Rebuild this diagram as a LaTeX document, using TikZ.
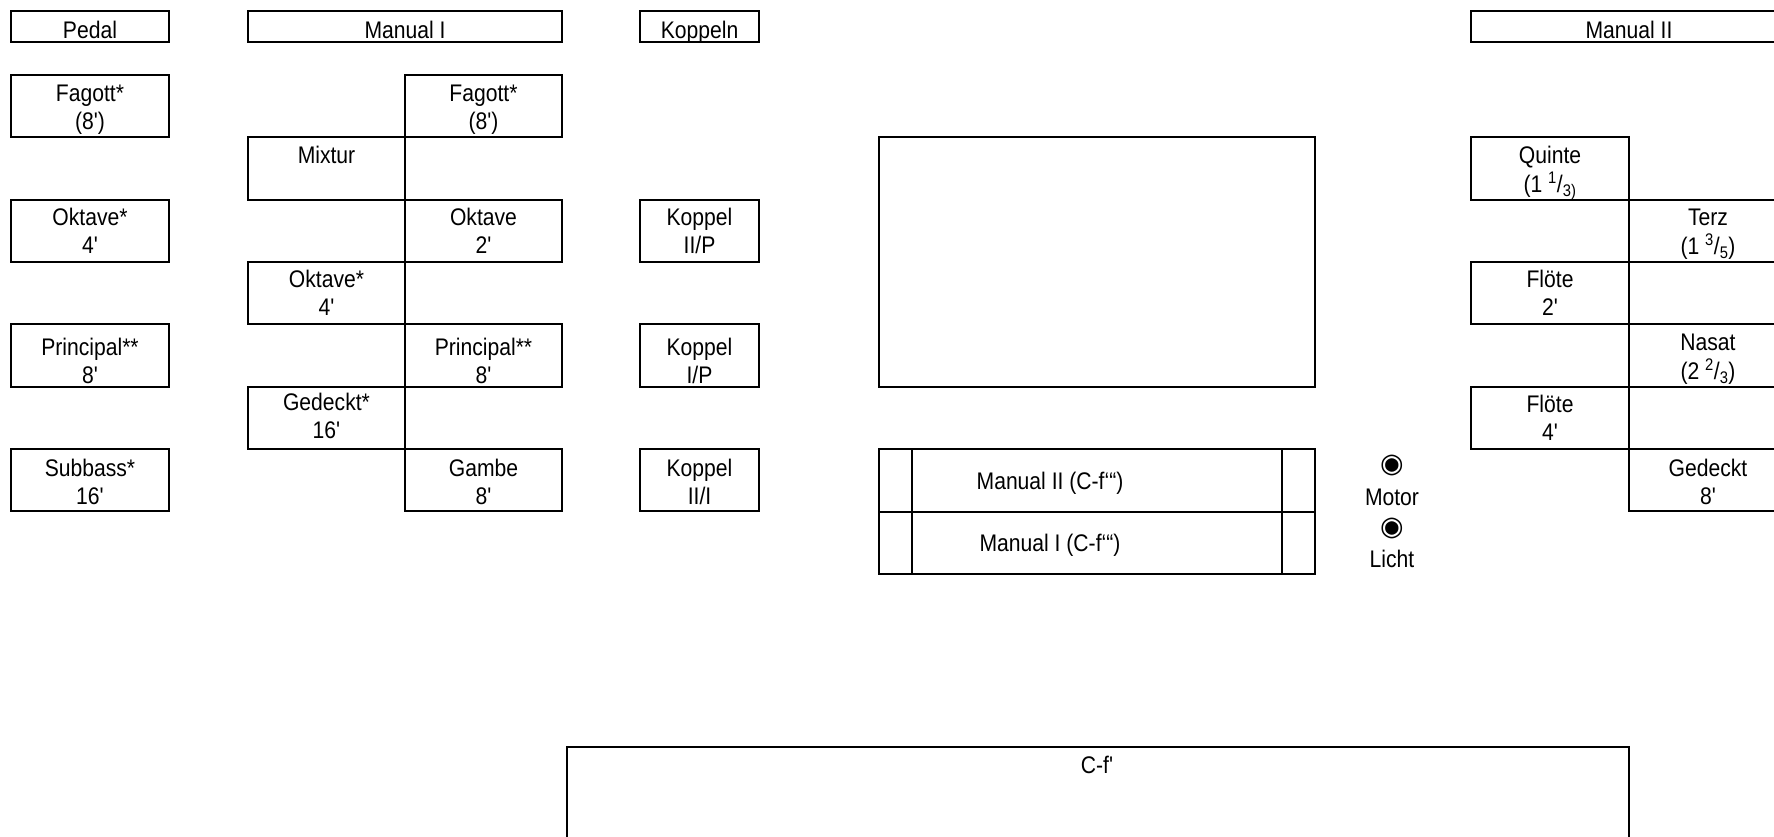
\documentclass[tikz,border=0pt]{standalone}
\usepackage{fontspec}
\setmainfont{Liberation Sans}[FakeStretch=0.88, Ligatures=TeXOff]
\newfontfamily\symfont{DejaVu Sans}
\newcommand\regbox[6]{\node[stopbox, minimum width=#4, anchor=north west, #6] (#1) at (#2,#3) {\begin{tabular}[t]{@{}c@{}}#5\end{tabular}};}
\begin{document}
\begin{tikzpicture}[x=1pt,y=-1pt,
  every node/.style={inner sep=0pt, outer sep=0pt, font=\fontsize{24}{28}\selectfont},
  lw/.style={line width=2pt},
  stopbox/.style={draw, lw, text height=26pt, text depth=36.3pt},
  lowtext/.style={text height=31pt, text depth=31.3pt},
  hightext/.style={text height=24pt, text depth=38.3pt},
  midtext/.style={text height=28pt, text depth=34.3pt},
  hdr/.style={draw, lw, text height=27pt, text depth=4pt, anchor=north west},
  plain/.style={draw, lw, anchor=north west},
  switchmark/.style={font=\symfont\fontsize{27}{27}\selectfont}
]
\useasboundingbox (0,0) rectangle (1774,836);
\clip (0,0) rectangle (1774,836);

% headers
\node[hdr, minimum width=158pt] (hpedal) at (11,11) {Pedal};
\node[hdr, minimum width=314pt] (hman1) at (248,11) {Manual I};
\node[hdr, minimum width=119pt] (hkop) at (640,11) {Koppeln};
\node[hdr, minimum width=316pt] (hman2) at (1471,11) {Manual II};

% Pedal
\regbox{pfag}{11}{75}{158pt}{Fagott*\\(8')}{}
\regbox{pokt}{11}{199.6}{158pt}{Oktave*\\4'}{}
\regbox{pprin}{11}{324.2}{158pt}{Principal**\\8'}{lowtext}
\regbox{psub}{11}{448.8}{158pt}{Subbass*\\16'}{midtext}

% Manual I
\regbox{mfag}{405}{75}{157pt}{Fagott*\\(8')}{}
\regbox{mmix}{248}{137.3}{157pt}{Mixtur\\\mbox{}}{}
\regbox{mokt}{405}{199.6}{157pt}{Oktave\\2'}{}
\regbox{mokts}{248}{261.9}{157pt}{Oktave*\\4'}{}
\regbox{mprin}{405}{324.2}{157pt}{Principal**\\8'}{lowtext}
\regbox{mged}{248}{386.5}{157pt}{Gedeckt*\\16'}{hightext}
\regbox{mgam}{405}{448.8}{157pt}{Gambe\\8'}{midtext}

% Koppeln
\regbox{k2p}{640}{199.6}{119pt}{Koppel\\II/P}{}
\regbox{k1p}{640}{324.2}{119pt}{Koppel\\I/P}{lowtext}
\regbox{k21}{640}{448.8}{119pt}{Koppel\\II/I}{midtext}

% Manual II
\regbox{nquin}{1471}{137.3}{158pt}{Quinte\\(1 \textsuperscript{1}/\textsubscript{3)}}{}
\regbox{nterz}{1629}{199.6}{158pt}{Terz\\(1 \textsuperscript{3}/\textsubscript{5})}{}
\regbox{nfl2}{1471}{261.9}{158pt}{Flöte\\2'}{}
\regbox{nnas}{1629}{324.2}{158pt}{Nasat\\(2 \textsuperscript{2}/\textsubscript{3})}{}
\regbox{nfl4}{1471}{386.5}{158pt}{Flöte\\4'}{}
\regbox{nged}{1629}{448.8}{158pt}{Gedeckt\\8'}{midtext}

% music desk
\node[plain, minimum width=436pt, minimum height=250pt] (desk) at (878.5,137) {};

% keyboards
\node[plain, minimum width=436pt, minimum height=62.5pt] (kb2) at (878.5,449) {};
\node[plain, minimum width=436pt, minimum height=62.5pt] (kb1) at (878.5,511.5) {};
\draw[lw] ([xshift=33.5pt]kb2.north west) -- ([xshift=33.5pt]kb1.south west);
\draw[lw] ([xshift=-32.5pt]kb2.north east) -- ([xshift=-32.5pt]kb1.south east);
\node[anchor=base] (kb2t) at (1050,489) {Manual II (C-f‘“)};
\node[anchor=base] (kb1t) at (1050,551.5) {Manual I (C-f‘“)};

% switches
\node[switchmark] (m1) at (1392,465) {◉};
\node[anchor=base] (motor) at (1392,505) {Motor};
\node[switchmark] (m2) at (1392,528.5) {◉};
\node[anchor=base] (licht) at (1392,567) {Licht};

% pedalboard
\node[plain, minimum width=1062pt, minimum height=150pt] (ped) at (567,747) {};
\node[anchor=base] (pedt) at (1097,773) {C-f'};
\end{tikzpicture}
\end{document}
